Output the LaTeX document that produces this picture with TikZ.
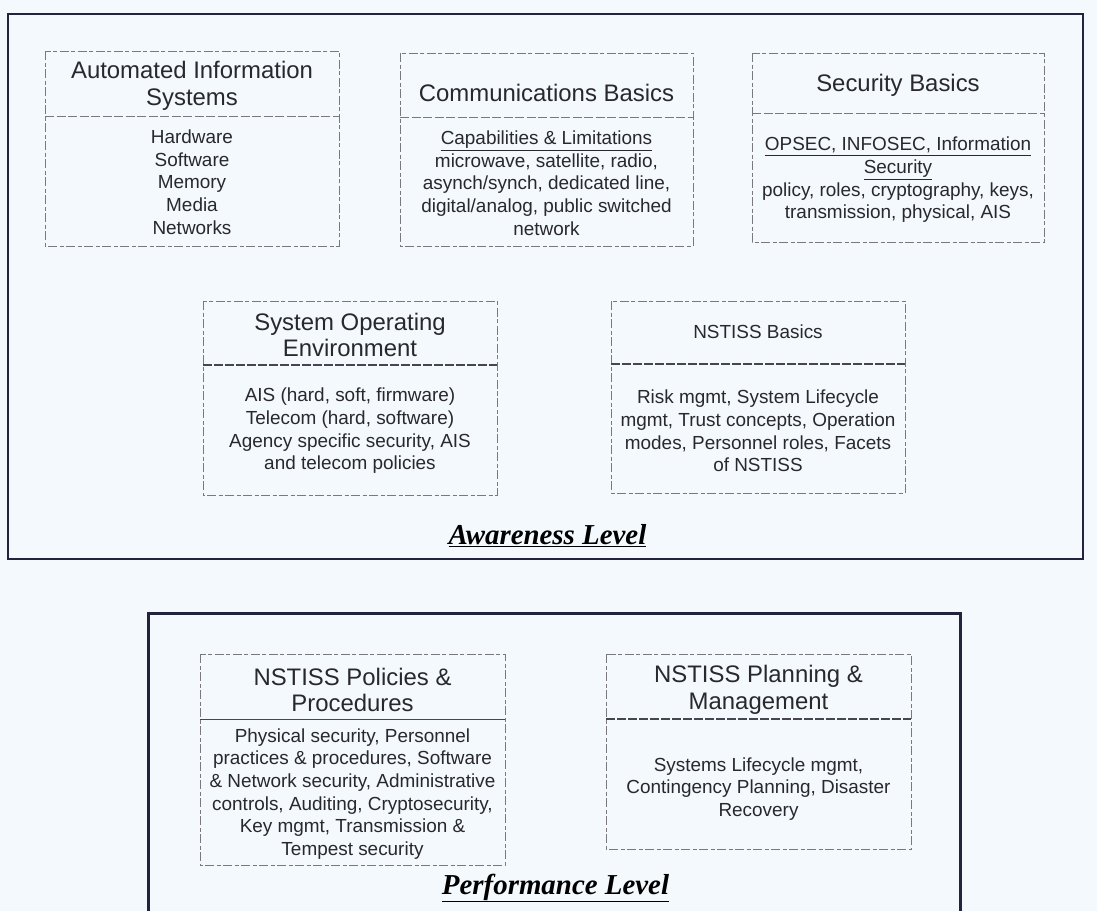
\documentclass[tikz,border=0pt]{standalone}
\usepackage{fontspec}
\setmainfont{Liberation Sans}
\newfontfamily\labelfont{Liberation Serif}
\definecolor{bg}{RGB}{243,249,252}
\definecolor{framecol}{RGB}{35,35,62}
\definecolor{boxline}{RGB}{120,120,126}
\definecolor{darkline}{RGB}{70,70,80}
\definecolor{txt}{RGB}{40,40,45}
\tikzset{
  panel/.style={draw=boxline, line width=0.9bp, dash pattern=on 9bp off 2.5bp on 4bp off 2.5bp},
  divider/.style={draw=boxline, line width=0.9bp, dash pattern=on 9bp off 2.5bp},
  darkdivider/.style={draw=darkline, line width=1.1bp, dash pattern=on 9bp off 2bp},
  titletext/.style={align=center, text=txt, font=\fontsize{24}{26.5}\selectfont, inner sep=0pt},
  smalltitle/.style={align=center, text=txt, font=\fontsize{19}{22}\selectfont, inner sep=0pt},
  bodytext/.style={align=center, text=txt, font=\fontsize{19}{22.7}\selectfont, inner sep=0pt},
  leveltext/.style={text=black, font=\labelfont\bfseries\itshape\fontsize{29}{30}\selectfont, inner sep=0pt},
  outerframe/.style={draw=framecol, line width=2bp},
  perfframe/.style={draw=framecol, line width=3bp},
}
\begin{document}
\begin{tikzpicture}[x=1bp,y=-1bp]
\useasboundingbox[fill=bg] (0,0) rectangle (1097,911);

% Awareness frame
\draw[outerframe] (8,14) rectangle (1083,559);

% Automated Information Systems
\draw[panel] (45,51) rectangle (339,246);
\coordinate (aisL) at (45,116); \coordinate (aisR) at (339,116);
\draw[divider] (aisL) -- (aisR);
\node[titletext] (aisT) at (192,86) {Automated Information\\Systems};
\node[bodytext] (aisB) at (192,182) {Hardware\\Software\\Memory\\Media\\Networks};

% Communications Basics
\draw[panel] (400,53) rectangle (693,246);
\coordinate (comL) at (400,117); \coordinate (comR) at (693,117);
\draw[divider] (comL) -- (comR);
\node[titletext] (comT) at (546.5,93) {Communications Basics};
\node[bodytext] (comB) at (546.5,183) {\underline{Capabilities \& Limitations}\\microwave, satellite, radio,\\asynch/synch, dedicated line,\\digital/analog, public switched\\network};

% Security Basics
\draw[panel] (752,53) rectangle (1044,242);
\coordinate (secL) at (752,113); \coordinate (secR) at (1044,113);
\draw[divider] (secL) -- (secR);
\node[titletext] (secT) at (898,85) {Security Basics};
\node[bodytext] (secB) at (898,180) {\underline{OPSEC, INFOSEC, Information}\\\underline{Security}\\policy, roles, cryptography, keys,\\transmission, physical, AIS};

% System Operating Environment
\draw[panel] (203,301) rectangle (497,495);
\coordinate (soeL) at (203,365); \coordinate (soeR) at (497,365);
\draw[darkdivider] (soeL) -- (soeR);
\node[titletext] (soeT) at (350,335) {System Operating\\Environment};
\node[bodytext] (soeB) at (350,431) {AIS (hard, soft, firmware)\\Telecom (hard, software)\\Agency specific security, AIS\\and telecom policies};

% NSTISS Basics
\draw[panel] (611,301) rectangle (905,493);
\coordinate (nbL) at (611,364); \coordinate (nbR) at (905,364);
\draw[darkdivider] (nbL) -- (nbR);
\node[smalltitle] (nbT) at (758,332) {NSTISS Basics};
\node[bodytext] (nbB) at (758,431) {Risk mgmt, System Lifecycle\\mgmt, Trust concepts, Operation\\modes, Personnel roles, Facets\\of NSTISS};

\node[leveltext] (awl) at (547.5,536) {\underline{Awareness Level}};

% Performance frame
\coordinate (pfBL) at (148,911); \coordinate (pfTL) at (148,613);
\coordinate (pfTR) at (960,613); \coordinate (pfBR) at (960,911);
\draw[perfframe] (pfBL) -- (pfTL) -- (pfTR) -- (pfBR);

% NSTISS Policies & Procedures
\draw[panel] (200,654) rectangle (505,865);
\coordinate (ppL) at (200,719); \coordinate (ppR) at (505,719);
\draw[draw=darkline, line width=1bp] (ppL) -- (ppR);
\node[titletext] (ppT) at (352.5,690) {NSTISS Policies \&\\Procedures};
\node[bodytext] (ppB) at (352.5,794) {Physical security, Personnel\\practices \& procedures, Software\\\& Network security, Administrative\\controls, Auditing, Cryptosecurity,\\Key mgmt, Transmission \&\\Tempest security};

% NSTISS Planning & Management
\draw[panel] (606,654) rectangle (911,849);
\coordinate (pmL) at (606,719); \coordinate (pmR) at (911,719);
\draw[darkdivider] (pmL) -- (pmR);
\node[titletext] (pmT) at (758.5,690) {NSTISS Planning \&\\Management};
\node[bodytext] (pmB) at (758.5,789) {Systems Lifecycle mgmt,\\Contingency Planning, Disaster\\Recovery};

\node[leveltext] (pfl) at (555.5,888) {\underline{Performance Level}};
\end{tikzpicture}
\end{document}
